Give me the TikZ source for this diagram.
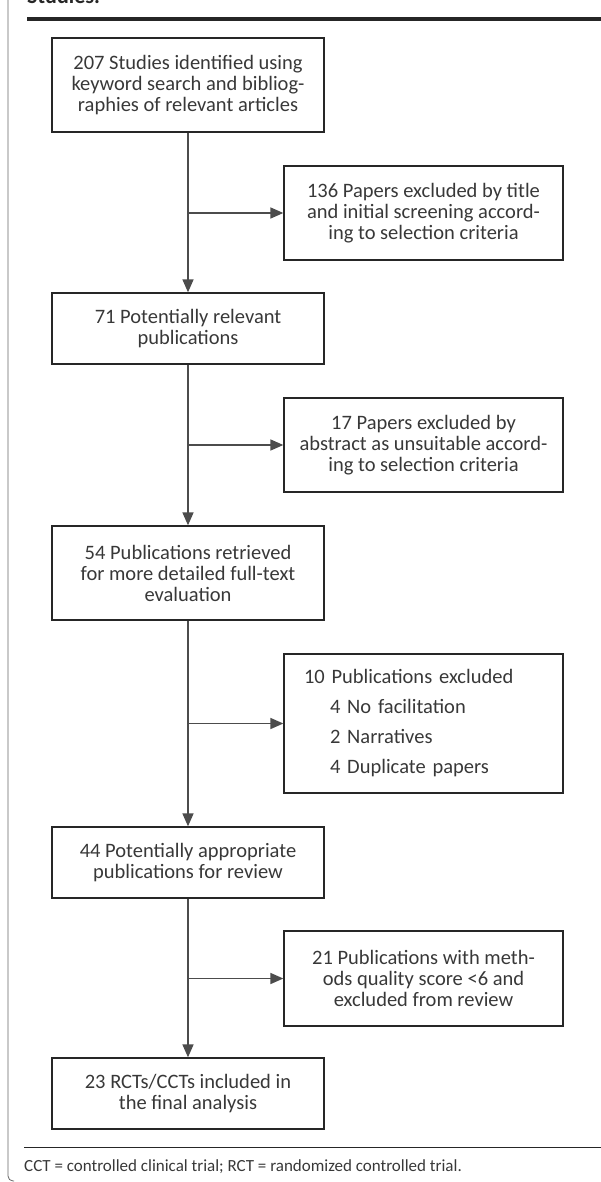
\documentclass[tikz,border=0pt]{standalone}
\usepackage{fontspec}
\setmainfont{Carlito}
\usetikzlibrary{arrows.meta}

\begin{document}
\begin{tikzpicture}[x=1pt, y=-1pt,
    box/.style={rectangle, draw=black!85, line width=1.3pt, minimum width=272pt, minimum height=71pt, align=center, inner sep=0pt, text=black!78, font=\fontsize{20.5}{21}\selectfont},
    side/.style={box, minimum width=279pt},
    arrow/.style={-{Triangle[length=13pt, width=11pt]}, line width=1.6pt, draw=black!70, fill=black!85},
    hrule/.style={draw=black!85, line width=1pt}
]

\useasboundingbox (0,0) rectangle (601,1182);
\clip (0,0) rectangle (601,1182);

% Frame, title and rules
\node[anchor=base west, inner sep=0pt, text=black!85, font=\bfseries\fontsize{22}{24}\selectfont] (title) at (27,4) {Studies.};
\draw[hrule, line width=4pt] (27,19) -- (601,19);
\draw[draw=black!60, line width=0.8pt, rounded corners=5pt] (8,0) -- (8,1181) -- (14,1181);

% Nodes
\node[box, minimum height=94pt] (s1) at (188,85) {207 Studies identified using\\keyword search and bibliog-\\raphies of relevant articles};
\node[box] (s2) at (188,328.5) {71 Potentially relevant\\publications};
\node[box, minimum height=94pt] (s3) at (188,573) {54 Publications retrieved\\for more detailed full-text\\evaluation};
\node[box] (s4) at (188,862.5) {44 Potentially appropriate\\publications for review};
\node[box] (s5) at (188,1093.5) {23 RCTs/CCTs included in\\the final analysis};

% Excluded
\node[side, minimum height=94pt] (x1) at (423.5,213) {136 Papers excluded by title\\and initial screening accord-\\ing to selection criteria};
\node[side, minimum height=94pt] (x2) at (423.5,445) {17 Papers excluded by\\abstract as unsuitable accord-\\ing to selection criteria};
\node[side, minimum height=139pt, align=left, text width=239pt] (x3) at (423.5,723.5) {10 Publications excluded\\[9pt]
    \hspace*{26pt}4 No facilitation\\[9pt]
    \hspace*{26pt}2 Narratives\\[9pt]
    \hspace*{26pt}4 Duplicate papers};
\node[side, minimum height=95pt] (x4) at (423.5,978.5) {21 Publications with meth-\\ods quality score <6 and\\excluded from review};

% Junctions
\coordinate (j1) at (s1.south |- x1.west);
\coordinate (j2) at (s2.south |- x2.west);
\coordinate (j3) at (s3.south |- x3.west);
\coordinate (j4) at (s4.south |- x4.west);

% Arrows
\draw[arrow] (s1) -- (s2);
\draw[arrow] (s2) -- (s3);
\draw[arrow] (s3) -- (s4);
\draw[arrow] (s4) -- (s5);
\draw[arrow] (j1) -- (x1);
\draw[arrow] (j2) -- (x2);
\draw[arrow] (j3) -- (x3);
\draw[arrow] (j4) -- (x4);

% Footnote
\draw[hrule] (24,1147) -- (601,1147);
\node[anchor=west, inner sep=0pt, text=black!78, font=\fontsize{17}{19}\selectfont] (note) at (24,1167) {CCT = controlled clinical trial; RCT = randomized controlled trial.};

\end{tikzpicture}
\end{document}
